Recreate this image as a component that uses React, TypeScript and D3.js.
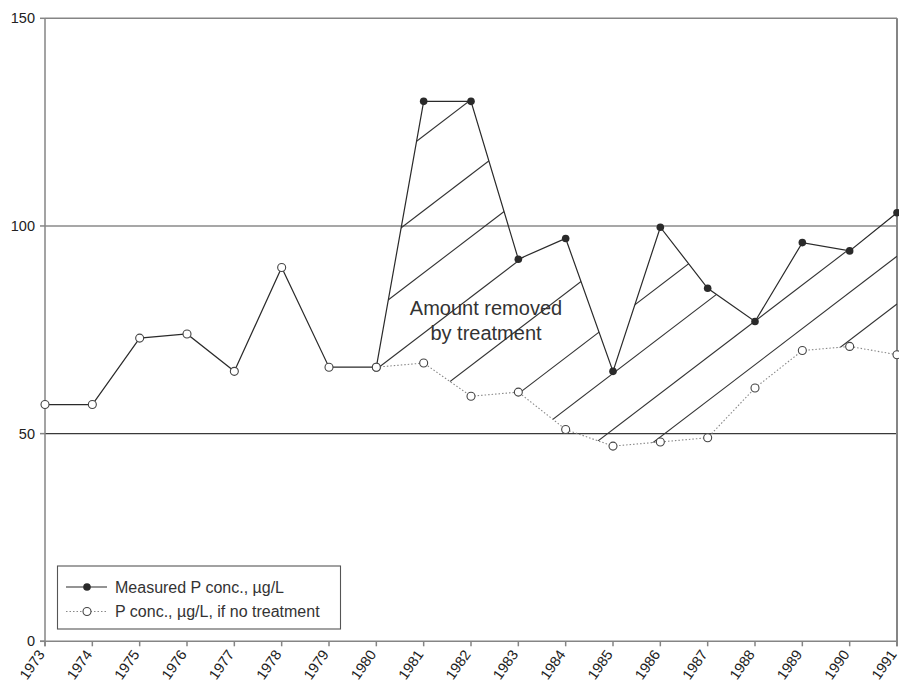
import React from "react";
import * as d3 from "d3";

const years = d3.range(1973, 1992);
// Measured P conc. (1973–1980 are the pre-treatment observations, shown as open markers)
const measured = [57, 57, 73, 74, 65, 90, 66, 66, 130, 130, 92, 97, 65, 99.7, 85, 77, 96, 94, 103.2];
const treatmentStartYear = 1980;
const noTreatmentYears = d3.range(1980, 1992);
const noTreatment = [66, 67, 59, 60, 51, 47, 48, 49, 61, 70, 71, 69];
const yTicks = [0, 50, 100, 150];
// Hatch annotation: value at 1980 of each diagonal hatch line, and common slope (units/year)
const hatchIntercepts = [113, 95, 80, 65.5, 49, 33.5, 21, 7.5, -3, -14.5];
const hatchSlope = 8.7;
const legendLabels = ["Measured P conc., \u00b5g/L", "P conc., \u00b5g/L, if no treatment"];
const annotation = ["Amount removed", "by treatment"];

export default function App() {
  const W = 899, H = 686;
  const x = d3.scaleLinear().domain([1973, 1991]).range([45, 897]);
  const y = d3.scaleLinear().domain([0, 150]).range([641.3, 18.3]);
  const font = "Liberation Sans, Arial, Helvetica, sans-serif";

  const meas = years.map((yr, i) => ({ yr, v: measured[i] }));
  const noT = noTreatmentYears.map((yr, i) => ({ yr, v: noTreatment[i] }));
  const line = d3.line<{ yr: number; v: number }>().x(d => x(d.yr)).y(d => y(d.v));

  const upper = meas.filter(d => d.yr >= treatmentStartYear);
  const poly = [...upper, ...noT.slice().reverse()];
  const polyPath = line(poly) + "Z";

  const axisColor = "#858585";

  return (
    <svg width={W} height={H} style={{ position: "absolute", left: 0, top: 0, background: "#fff" }}>
      <defs>
        <clipPath id="removedArea">
          <path d={polyPath} />
        </clipPath>
      </defs>

      {/* gridlines */}
      <line x1={x(1973)} x2={x(1991)} y1={y(100)} y2={y(100)} stroke="#8a8a8a" strokeWidth={1.6} />
      <line x1={x(1973)} x2={x(1991)} y1={y(50)} y2={y(50)} stroke="#3a3a3a" strokeWidth={1.2} />

      {/* frame */}
      <line x1={x(1973)} x2={x(1991)} y1={y(150)} y2={y(150)} stroke={axisColor} strokeWidth={1.5} />
      <line x1={x(1991)} x2={x(1991)} y1={y(150)} y2={y(0) + 5} stroke={axisColor} strokeWidth={2} />
      <line x1={x(1973)} x2={x(1973)} y1={y(150)} y2={y(0) + 5} stroke={axisColor} strokeWidth={1.5} />
      <line x1={x(1973) - 5} x2={x(1991)} y1={y(0)} y2={y(0)} stroke={axisColor} strokeWidth={1.5} />

      {/* y ticks */}
      {yTicks.map(t => (
        <g key={t}>
          <line x1={x(1973) - 5} x2={x(1973)} y1={y(t)} y2={y(t)} stroke={axisColor} strokeWidth={1.5} />
          <text x={35} y={y(t)} dy="0.35em" textAnchor="end" fontFamily={font} fontSize={14.5} fill="#222">{t}</text>
        </g>
      ))}

      {/* x ticks */}
      {years.map(yr => (
        <g key={yr}>
          <line x1={x(yr)} x2={x(yr)} y1={y(0)} y2={y(0) + 5} stroke={axisColor} strokeWidth={1.5} />
          <text
            transform={`translate(${x(yr) + 0.5},${y(0) + 13}) rotate(-55)`}
            textAnchor="end"
            fontFamily={font}
            fontSize={14.5}
            fill="#222"
          >{yr}</text>
        </g>
      ))}

      {/* hatch lines */}
      <g clipPath="url(#removedArea)">
        {hatchIntercepts.map((v0, i) => (
          <line
            key={i}
            x1={x(1980)}
            y1={y(v0)}
            x2={x(1991)}
            y2={y(v0 + hatchSlope * 11)}
            stroke="#333"
            strokeWidth={1.1}
          />
        ))}
      </g>

      {/* no-treatment dotted line */}
      <path d={line(noT) || ""} fill="none" stroke="#888" strokeWidth={1.1} strokeDasharray="1.5,2" />
      {/* measured line */}
      <path d={line(meas) || ""} fill="none" stroke="#2a2a2a" strokeWidth={1.2} />

      {/* markers */}
      {noT.map(d => (
        <circle key={"n" + d.yr} cx={x(d.yr)} cy={y(d.v)} r={4} fill="#fff" stroke="#444" strokeWidth={1.1} />
      ))}
      {meas.map(d => (
        d.yr <= treatmentStartYear ? (
          <circle key={"m" + d.yr} cx={x(d.yr)} cy={y(d.v)} r={4} fill="#fff" stroke="#444" strokeWidth={1.1} />
        ) : (
          <circle key={"m" + d.yr} cx={x(d.yr)} cy={y(d.v)} r={3.8} fill="#2a2a2a" />
        )
      ))}

      {/* annotation */}
      {annotation.map((t, i) => (
        <text key={t} x={486} y={315 + i * 25} textAnchor="middle" fontFamily={font} fontSize={20} fill="#333">{t}</text>
      ))}

      {/* legend */}
      <g>
        <rect x={57.5} y={566} width={283} height={63} fill="#fff" stroke="#555" strokeWidth={1.1} />
        <line x1={66} x2={107} y1={587} y2={587} stroke="#2a2a2a" strokeWidth={1.2} />
        <circle cx={87} cy={587} r={3.8} fill="#2a2a2a" />
        <text x={115} y={587} dy="0.35em" fontFamily={font} fontSize={16} fill="#333">{legendLabels[0]}</text>
        <line x1={66} x2={107} y1={611.5} y2={611.5} stroke="#888" strokeWidth={1.1} strokeDasharray="1.5,2" />
        <circle cx={87} cy={611.5} r={4} fill="#fff" stroke="#444" strokeWidth={1.1} />
        <text x={115} y={611.5} dy="0.35em" fontFamily={font} fontSize={16} fill="#333">{legendLabels[1]}</text>
      </g>
    </svg>
  );
}
